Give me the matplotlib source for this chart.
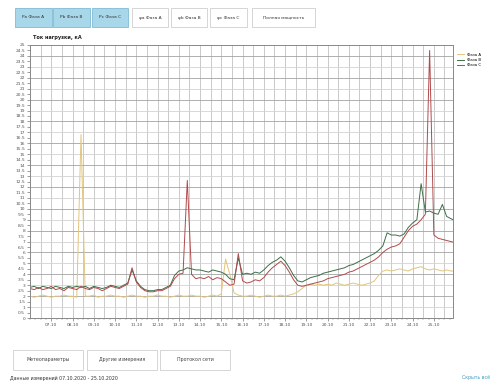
import numpy as np
import matplotlib
matplotlib.use("Agg")
import matplotlib.pyplot as plt
from matplotlib.patches import Rectangle
from matplotlib.ticker import MultipleLocator

# sample positions (days from start, 0.2 day step)
x_days = np.round(np.arange(0, 20.01, 0.2), 1)

phase_a = [2.0, 1.9, 2.0, 2.1, 2.0, 1.9, 2.0, 2.0, 2.1, 2.0,
           2.0, 1.9, 16.8, 2.0, 2.0, 2.1, 1.9, 2.0, 2.0, 2.1,
           2.0, 2.0, 1.9, 2.0, 2.1, 2.0, 2.0, 1.9, 2.0, 2.0,
           2.1, 2.0, 2.0, 1.9, 2.0, 2.1, 2.0, 2.0, 2.1, 2.0,
           2.0, 1.9, 2.0, 2.1, 2.0, 2.2, 5.4, 4.0, 2.3, 2.1,
           2.0, 2.0, 2.1, 2.0, 1.9, 2.0, 2.1, 2.0, 2.0, 2.1,
           2.0, 2.1, 2.2, 2.4, 2.7, 3.0, 3.1, 3.0, 3.1, 3.0,
           3.1, 3.0, 3.2, 3.1, 3.0, 3.1, 3.2, 3.1, 3.0, 3.1,
           3.2, 3.4, 3.9, 4.3, 4.4, 4.3, 4.4, 4.5, 4.4, 4.3,
           4.5, 4.6, 4.7, 4.5, 4.4, 4.5, 4.4, 4.3, 4.4, 4.3, 4.3]

phase_b = [2.8, 2.9, 2.7, 2.9, 2.8, 2.7, 2.9, 2.8, 2.7, 2.9,
           2.8, 2.9, 2.8, 2.9, 2.7, 2.9, 2.8, 2.7, 2.8, 3.0,
           2.9, 2.8, 3.0, 3.2, 4.4, 3.4, 2.9, 2.6, 2.5, 2.5,
           2.6, 2.6, 2.8, 3.0, 3.9, 4.3, 4.4, 4.6, 4.5, 4.4,
           4.4, 4.3, 4.2, 4.4, 4.3, 4.2, 4.0, 3.6, 3.5, 5.5,
           4.0, 4.1, 4.0, 4.2, 4.1, 4.4, 4.8, 5.1, 5.3, 5.6,
           5.2, 4.6, 3.9, 3.4, 3.3, 3.5, 3.7, 3.8, 3.9, 4.1,
           4.2, 4.3, 4.4, 4.5, 4.6, 4.8, 4.9, 5.1, 5.3, 5.5,
           5.7, 5.9, 6.2, 6.6, 7.8, 7.6, 7.6, 7.5, 7.7, 8.3,
           8.7, 9.0, 12.3, 9.7, 9.8, 9.6, 9.5, 10.4, 9.3, 9.1, 8.9]

phase_c = [2.7, 2.6, 2.8, 2.6, 2.7, 2.9, 2.6, 2.7, 2.5, 2.8,
           2.7, 2.6, 2.9, 2.7, 2.6, 2.8, 2.7, 2.5, 2.7, 2.9,
           2.8, 2.7, 2.9, 3.1, 4.6, 3.3, 2.8, 2.5, 2.4, 2.4,
           2.5, 2.5, 2.7, 2.9, 3.6, 4.0, 4.1, 12.6, 4.0, 3.6,
           3.7, 3.6, 3.8, 3.5, 3.7, 3.6, 3.3, 3.0, 3.1, 5.9,
           3.4, 3.2, 3.3, 3.5, 3.4, 3.7, 4.2, 4.6, 4.9, 5.2,
           4.8, 4.2, 3.5, 3.0, 2.9, 3.0, 3.1, 3.2, 3.3, 3.4,
           3.6, 3.7, 3.8, 3.9, 4.0, 4.2, 4.3, 4.5, 4.7, 4.9,
           5.1, 5.3, 5.6, 6.0, 6.3, 6.5, 6.6, 6.8, 7.4, 8.0,
           8.4, 8.6, 9.0, 9.5, 24.5, 7.6, 7.3, 7.2, 7.1, 7.0, 6.9]

series_names = ["Фаза A", "Фаза B", "Фаза C"]
series_colors = ["#e2c57e", "#3d6e48", "#b04a4c"]

day_ticks = list(range(1, 20))
day_labels = ["%02d.10" % (d + 6) for d in day_ticks]

top_buttons = ["Pa Фаза A", "Pb Фаза B", "Pc Фаза C",
               "φa Фаза A", "φb Фаза B", "φc Фаза C", "Полная мощность"]
bottom_buttons = ["Метеопараметры", "Другие измерения", "Протокол сети"]

W, H = 495, 385
fig = plt.figure(figsize=(W / 100, H / 100), dpi=100)
fig.patch.set_facecolor("white")

# page overlay in pixel units for the buttons and captions
page = fig.add_axes([0, 0, 1, 1])
page.set_xlim(0, W)
page.set_ylim(H, 0)
page.axis("off")

btn_x = [15, 53, 92, 132, 171, 210, 252]
btn_w = [37, 37, 36, 36, 36, 37, 63]
for i, (label, bx, bw) in enumerate(zip(top_buttons, btn_x, btn_w)):
    active = i < 3
    page.add_patch(Rectangle((bx, 8), bw, 19,
                             facecolor="#a9d7ea" if active else "white",
                             edgecolor="#7fbcd6" if active else "#cfcfcf", lw=0.6))
    page.text(bx + bw / 2, 17.5, label, fontsize=3.2, ha="center", va="center",
              color="#333333")

for label, bx in zip(bottom_buttons, [13, 87, 160]):
    page.add_patch(Rectangle((bx, 350), 70, 20, facecolor="white",
                             edgecolor="#cfcfcf", lw=0.6))
    page.text(bx + 35, 360, label, fontsize=3.4, ha="center", va="center",
              color="#444444")

page.text(10, 378, "Данные измерений 07.10.2020 - 25.10.2020", fontsize=3.4,
          va="center", color="#333333")
page.text(490, 378, "Скрыть всё", fontsize=3.4, va="center", ha="right",
          color="#3d9cc6")
page.text(33, 37, "Ток нагрузки, кА", fontsize=3.6, fontweight="bold",
          va="center", color="#222222")

# chart area
ax = fig.add_axes([30 / W, 1 - 318 / H, 423 / W, 273 / H])
for name, vals, col in zip(series_names, [phase_a, phase_b, phase_c], series_colors):
    ax.plot(x_days, vals, color=col, lw=0.7, label=name)

ax.set_xlim(0, 19.9)
ax.set_ylim(0, 25)
ax.set_xticks(day_ticks)
ax.set_xticklabels(day_labels)
ax.xaxis.set_minor_locator(MultipleLocator(0.25))
ax.yaxis.set_major_locator(MultipleLocator(0.5))
ax.yaxis.set_major_formatter(plt.FuncFormatter(lambda v, p: "%g" % v))
ax.tick_params(axis="both", labelsize=3.2, colors="#555555", length=2, width=0.4, pad=1.5)
ax.tick_params(axis="x", which="minor", length=1.5, width=0.3, colors="#777777")

for v in np.arange(0.5, 20, 0.5):
    ax.axvline(v, color="#c2c2c2", lw=0.6, zorder=0)
for v in range(1, 25):
    ax.axhline(v, color="#a2a2a2" if v % 2 == 0 else "#d2d2d2", lw=0.6, zorder=0)

for s in ax.spines.values():
    s.set_color("#888888")
    s.set_linewidth(0.7)

ax.legend(loc="upper left", bbox_to_anchor=(1.005, 0.98), fontsize=2.8,
          frameon=False, handlelength=1.6, borderaxespad=0.2, labelspacing=0.3)

fig.savefig("out.png", dpi=100)
